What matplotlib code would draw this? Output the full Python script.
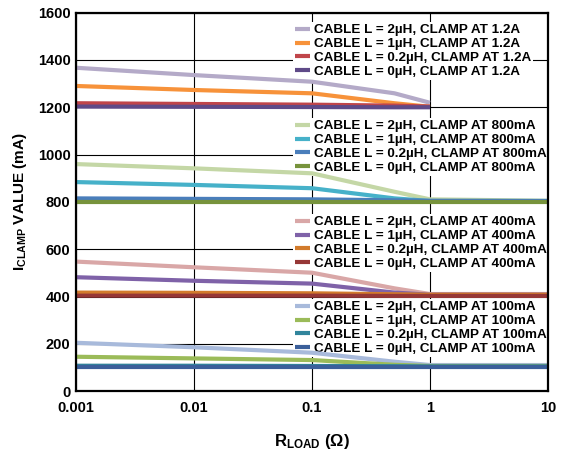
import matplotlib
matplotlib.use("Agg")
import matplotlib.pyplot as plt
from matplotlib.ticker import FixedLocator, FixedFormatter

plt.rcParams['font.family'] = ['Liberation Sans', 'DejaVu Sans']
plt.rcParams['font.weight'] = 'bold'
plt.rcParams['mathtext.fontset'] = 'custom'
plt.rcParams['mathtext.rm'] = 'Liberation Sans:bold'
plt.rcParams['mathtext.bf'] = 'Liberation Sans:bold'
plt.rcParams['mathtext.it'] = 'Liberation Sans:bold'

# ---- data ----
r_short = [0.001, 0.01, 0.1, 0.5, 1]
r_long = [0.001, 0.01, 0.1, 0.5, 1, 10]

clamp_12_2uH = [1367, 1336, 1308, 1259, 1219]
clamp_12_1uH = [1290, 1273, 1259, 1217, 1202]
clamp_12_02uH = [1217, 1214, 1211, 1207, 1203]
clamp_12_0uH = [1203, 1202, 1201, 1200, 1200]

clamp_800_2uH = [960, 942, 921, 843, 811, 805]
clamp_800_1uH = [884, 872, 858, 815, 804, 804]
clamp_800_02uH = [815, 813, 811, 807, 805, 804]
clamp_800_0uH = [801, 801, 801, 801, 801, 801]

clamp_400_2uH = [548, 524, 501, 435, 411, 411]
clamp_400_1uH = [482, 467, 455, 417, 408, 408]
clamp_400_02uH = [417, 416, 414, 410, 408, 408]
clamp_400_0uH = [404, 404, 404, 403, 403, 403]

clamp_100_2uH = [205, 186, 163, 125, 111, 111]
clamp_100_1uH = [146, 139, 132, 112, 107, 107]
clamp_100_02uH = [108, 108, 107, 106, 105, 105]
clamp_100_0uH = [104, 104, 104, 104, 104, 104]

cables = ['2µH', '1µH', '0.2µH', '0µH']
groups = [
    ('1.2A', r_short, [clamp_12_2uH, clamp_12_1uH, clamp_12_02uH, clamp_12_0uH],
     ['#b4aac8', '#f7923a', '#c0454a', '#5f4a88']),
    ('800mA', r_long, [clamp_800_2uH, clamp_800_1uH, clamp_800_02uH, clamp_800_0uH],
     ['#c4d7a6', '#46b1c9', '#4a7ebb', '#77933c']),
    ('400mA', r_long, [clamp_400_2uH, clamp_400_1uH, clamp_400_02uH, clamp_400_0uH],
     ['#d9a7a7', '#7f62a8', '#d27b2c', '#963736']),
    ('100mA', r_long, [clamp_100_2uH, clamp_100_1uH, clamp_100_02uH, clamp_100_0uH],
     ['#a8badb', '#9bbb59', '#31859c', '#3b5f9a']),
]

x_ticks = [0.001, 0.01, 0.1, 1, 10]
x_labels = ['0.001', '0.01', '0.1', '1', '10']
y_ticks = [0, 200, 400, 600, 800, 1000, 1200, 1400, 1600]

W, H = 573, 451
fig = plt.figure(figsize=(W / 100, H / 100), dpi=100)
ax = fig.add_axes([76 / W, (H - 391.3) / H, (548 - 76) / W, (391.3 - 12.6) / H])

ax.set_xscale('log')
ax.set_xlim(0.001, 10)
ax.set_ylim(0, 1600)
ax.xaxis.set_major_locator(FixedLocator(x_ticks))
ax.xaxis.set_major_formatter(FixedFormatter(x_labels))
ax.xaxis.set_minor_locator(FixedLocator([]))
ax.set_yticks(y_ticks)
ax.tick_params(axis='both', length=0, labelsize=10.5)
ax.tick_params(axis='x', pad=7)
ax.tick_params(axis='y', pad=4)
for lab in ax.get_xticklabels() + ax.get_yticklabels():
    lab.set_fontweight('bold')
ax.set_axisbelow(True)
ax.grid(True, color='black', linewidth=0.8)
for s in ax.spines.values():
    s.set_linewidth(1.6)
    s.set_zorder(5)

legend_tops = [22.0, 118.0, 214.0, 299.0]
for (clamp, rr, series, colors), top in zip(groups, legend_tops):
    handles = []
    for cab, vals, col in zip(cables, series, colors):
        ln, = ax.plot(rr, vals, color=col, linewidth=3, solid_capstyle='butt', zorder=2,
                      label=f'CABLE L = {cab}, CLAMP AT {clamp}')
        handles.append(ln)
    leg = ax.legend(handles=handles, loc='upper left',
                    bbox_to_anchor=(293 / W, 1 - top / H), bbox_transform=fig.transFigure,
                    frameon=True, facecolor='white', edgecolor='none', framealpha=1,
                    fancybox=False, borderpad=0.15, borderaxespad=0,
                    handlelength=1.1, handletextpad=0.3, labelspacing=0.1,
                    prop={'size': 9.7, 'weight': 'bold'})
    leg.set_zorder(1)
    ax.add_artist(leg)

ax.set_ylabel(r'$\mathbf{I_{CLAMP}}$ VALUE (mA)', fontsize=11, fontweight='bold', labelpad=6)
ax.set_xlabel(r'$\mathbf{R_{LOAD}}$ (Ω)', fontsize=12, fontweight='bold', labelpad=12)

fig.savefig('out.png', dpi=100)
